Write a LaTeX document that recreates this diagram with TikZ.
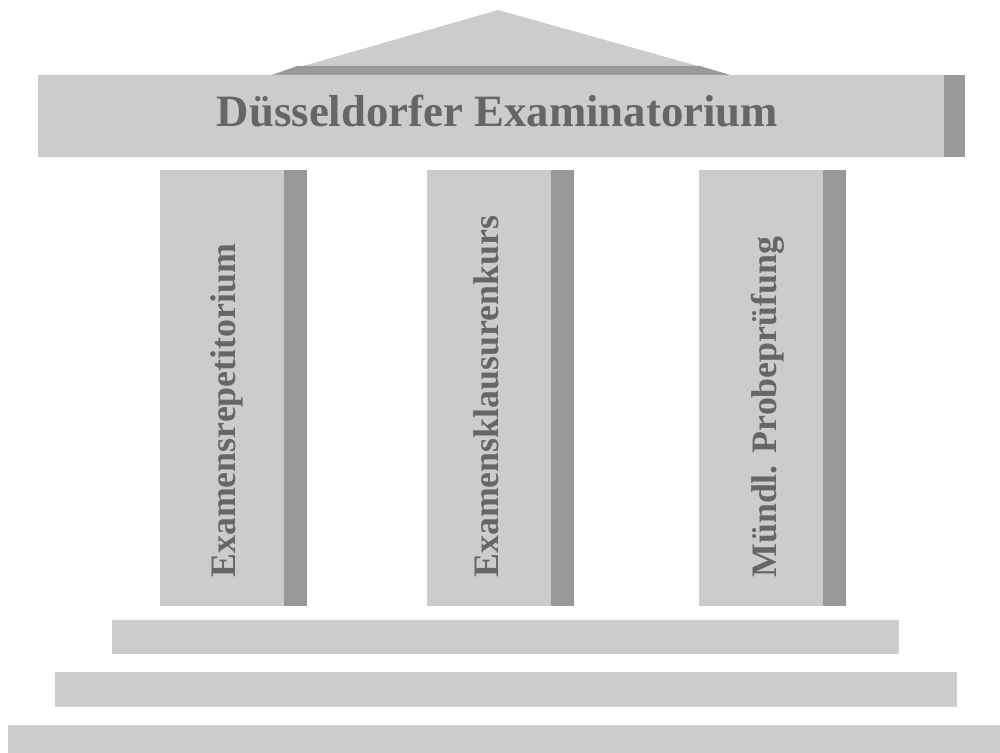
\documentclass[tikz,border=0pt]{standalone}
\usepackage{fontspec}
\setmainfont{Liberation Serif}
\usepackage{tikz}
\usetikzlibrary{calc}
\definecolor{stone}{HTML}{CCCCCC}
\definecolor{stonedark}{HTML}{999999}
\definecolor{ink}{HTML}{666666}
\tikzset{lbl/.style={font=\bfseries\fontsize{25.5}{26}\selectfont, text=ink, inner sep=0pt}}
\tikzset{clbl/.style={font=\bfseries\fontsize{20.4}{21}\selectfont, text=ink, inner sep=0pt, rotate=90, anchor=base west}}

\begin{document}
\begin{tikzpicture}[x=0.02cm,y=-0.02cm]
  \useasboundingbox (0,0) rectangle (1000,753);
  % roof
  \fill[stone] (498,10)--(272,75)--(730,75)--cycle;
  \fill[stonedark] (297,66)--(700,66)--(730,75)--(272,75)--cycle;
  % architrave
  \fill[stone] (38,75) rectangle (944,157);
  \fill[stonedark] (944,75) rectangle (965,157);
  \node[lbl, anchor=base] (head) at (497.5,127) {Düsseldorfer Examinatorium};
  % columns
  \foreach \x/\b/\name/\txt in {160/75/rep/Examensrepetitorium,
                                427/71/kurs/Examensklausurenkurs,
                                699/77/probe/Mündl. Probeprüfung}{
    \fill[stone] (\x,170) rectangle ++(124,436);
    \fill[stonedark] (\x+124,170) rectangle ++(23,436);
    \node[clbl] (\name) at (\x+\b,578) {\txt};
  }
  % steps
  \fill[stone] (112,620) rectangle (899,654);
  \fill[stone] (55,672) rectangle (957,707);
  \fill[stone] (8,725) rectangle (1000,753);
\end{tikzpicture}
\end{document}
